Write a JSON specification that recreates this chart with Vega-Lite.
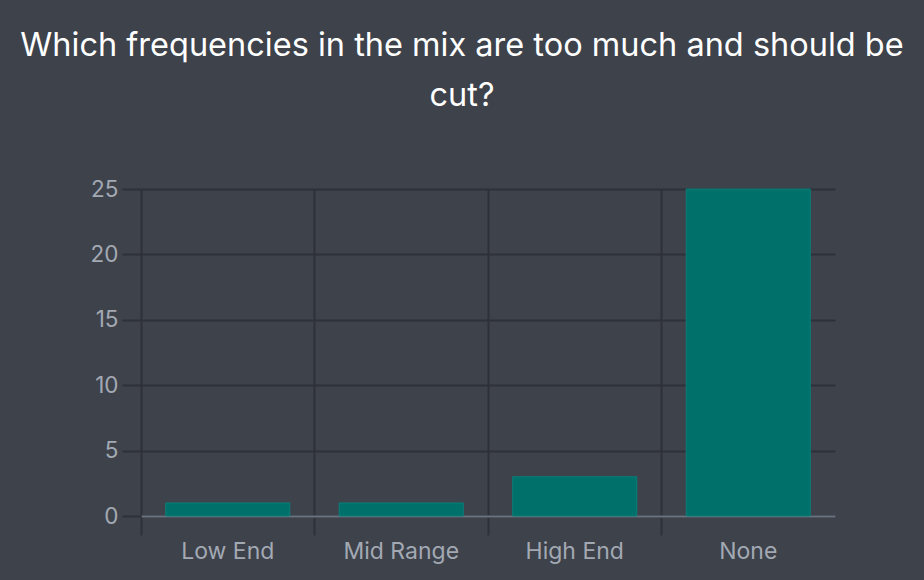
{
  "$schema": "https://vega.github.io/schema/vega-lite/v6.json",
  "width": 694,
  "height": 327,
  "autosize": {"type": "none"},
  "padding": {"left": 141, "top": 189, "right": 89, "bottom": 64},
  "background": "#3d424b",
  "title": {
    "text": ["Which frequencies in the mix are too much and should be", "cut?"],
    "anchor": "middle",
    "dx": -26,
    "offset": 66,
    "fontSize": 32.5,
    "font": "Inter",
    "fontWeight": "normal",
    "color": "#ffffff",
    "lineHeight": 50,
    "baseline": "top"
  },
  "config": {
    "view": {"stroke": null},
    "font": "Inter"
  },
  "data": {
    "values": [
      {"category": "Low End", "count": 1},
      {"category": "Mid Range", "count": 1},
      {"category": "High End", "count": 3},
      {"category": "None", "count": 25}
    ]
  },
  "mark": {"type": "bar", "color": "#00706b", "stroke": "#0a7f79", "strokeWidth": 1, "width": {"band": 0.715}},
  "encoding": {
    "x": {
      "field": "category",
      "type": "nominal",
      "sort": null,
      "scale": {"paddingInner": 0, "paddingOuter": 0},
      "axis": {
        "title": null,
        "bandPosition": 0,
        "labelOffset": 0,
        "labelAngle": 0,
        "labelFontSize": 23,
        "labelColor": "#a3a9b3",
        "labelPadding": 5,
        "grid": true,
        "gridColor": "#2e3139",
        "gridWidth": 2,
        "ticks": true,
        "tickSize": 19,
        "tickColor": "#2e3139",
        "tickWidth": 2,
        "domain": true,
        "domainColor": "#6b7280",
        "domainWidth": 2
      }
    },
    "y": {
      "field": "count",
      "type": "quantitative",
      "scale": {"domain": [0, 25], "nice": false},
      "axis": {
        "title": null,
        "values": [0, 5, 10, 15, 20, 25],
        "labelFontSize": 22.5,
        "labelColor": "#a3a9b3",
        "labelPadding": 4,
        "grid": true,
        "gridColor": "#2e3139",
        "gridWidth": 2,
        "ticks": true,
        "tickSize": 19,
        "tickColor": "#2e3139",
        "tickWidth": 2,
        "domain": false
      }
    }
  }
}
